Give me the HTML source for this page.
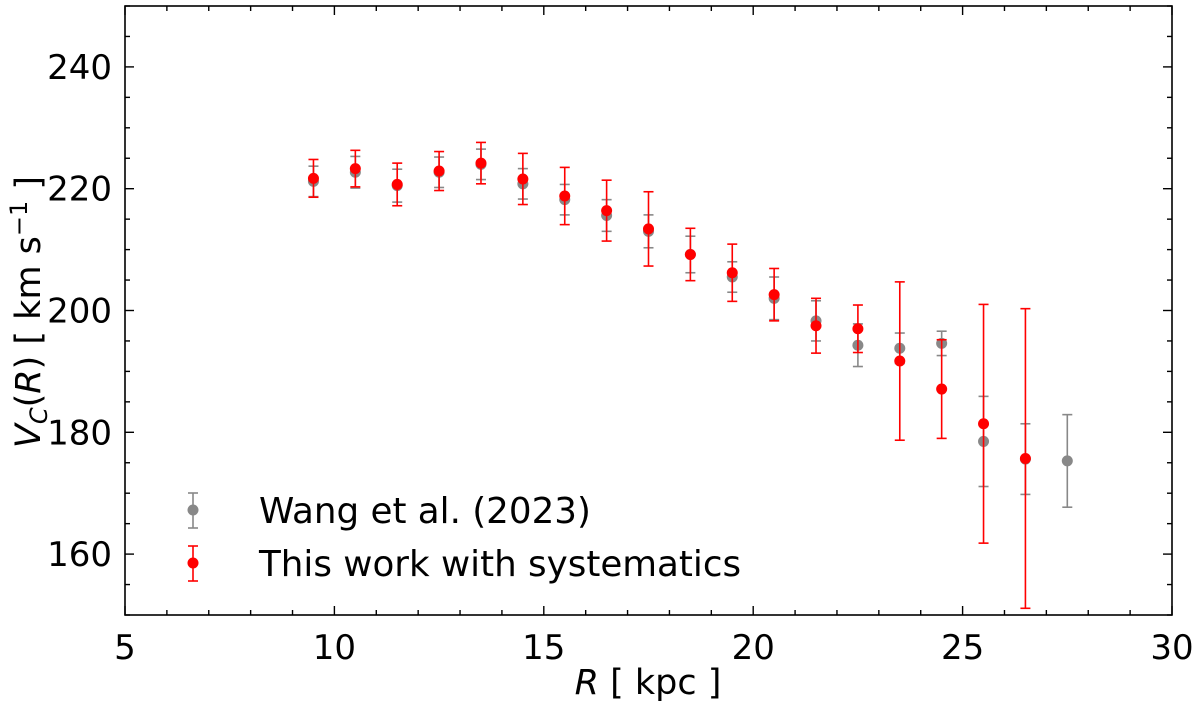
<!DOCTYPE html>
<html><head><meta charset="utf-8"><style>
body{margin:0;background:#fff}
svg text{font-family:"DejaVu Sans","Liberation Sans",sans-serif}
</style></head><body>
<svg id="chart" width="1200" height="703" viewBox="0 0 1200 703" xmlns="http://www.w3.org/2000/svg">
<g id="axes"></g>
<g id="marks"></g>
<rect x="125" y="6" width="1047" height="609" fill="none" stroke="#000" stroke-width="1.6"/>
<text x="648" y="694" font-size="35" text-anchor="middle"><tspan font-style="italic">R</tspan> [ kpc ]</text>
<text transform="translate(40,312) rotate(-90)" font-size="35" text-anchor="middle"><tspan font-style="italic">V</tspan><tspan font-style="italic" font-size="24" dy="7">C</tspan><tspan dy="-7">(</tspan><tspan font-style="italic">R</tspan>) [ km s<tspan font-size="24" dy="-13">−1</tspan><tspan dy="13"> ]</tspan></text>
<g>
<line x1="193" y1="493" x2="193" y2="528" stroke="#888" stroke-width="1.6"/><line x1="188" y1="493" x2="198" y2="493" stroke="#888" stroke-width="1.6"/><line x1="188" y1="528" x2="198" y2="528" stroke="#888" stroke-width="1.6"/>
<circle cx="193" cy="510" r="5.5" fill="#888"/>
<text x="259" y="523" font-size="35.7">Wang et al. (2023)</text>
<line x1="193" y1="546" x2="193" y2="581" stroke="red" stroke-width="1.6"/><line x1="188" y1="546" x2="198" y2="546" stroke="red" stroke-width="1.6"/><line x1="188" y1="581" x2="198" y2="581" stroke="red" stroke-width="1.6"/>
<circle cx="193" cy="563" r="5.5" fill="red"/>
<text x="259" y="576" font-size="35.7">This work with systematics</text>
</g>
</svg>
<script>
const xTicks=[5,10,15,20,25,30];
const yTicks=[160,180,200,220,240];
const wangR=[9.5,10.5,11.5,12.5,13.5,14.5,15.5,16.5,17.5,18.5,19.5,20.5,21.5,22.5,23.5,24.5,25.5,26.5,27.5];
const wangV=[221.2,222.7,220.5,222.7,224.0,220.8,218.2,215.6,213.0,209.2,205.5,202.0,198.3,194.3,193.8,194.6,178.5,175.6,175.3];
const wangErr=[2.5,2.6,2.7,2.5,2.5,2.5,2.5,2.6,2.7,3.0,2.5,3.5,3.3,3.5,2.5,2.0,7.4,5.8,7.6];
const workR=[9.5,10.5,11.5,12.5,13.5,14.5,15.5,16.5,17.5,18.5,19.5,20.5,21.5,22.5,23.5,24.5,25.5,26.5];
const workV=[221.7,223.3,220.7,222.9,224.2,221.6,218.8,216.4,213.4,209.2,206.2,202.6,197.5,197.0,191.7,187.1,181.4,175.7];
const workErr=[3.1,3.0,3.5,3.2,3.4,4.2,4.7,5.0,6.1,4.3,4.7,4.3,4.5,3.9,13.0,8.1,19.6,24.6];
const X0=125,X1=1172,Y0=615,Y1=6;
const xs=v=>X0+(v-5)/25*(X1-X0);
const ys=v=>Y0-(v-150)/100*(Y0-Y1);
const NS="http://www.w3.org/2000/svg";
function mk(tag,attrs,parent){const e=document.createElementNS(NS,tag);for(const k in attrs)e.setAttribute(k,attrs[k]);parent.appendChild(e);return e;}
const axes=document.getElementById('axes'),marks=document.getElementById('marks');
for(let v=5;v<=30;v+=1){const major=v%5===0,L=major?9:5,x=xs(v);
 const t1=mk('line',{x1:x,y1:Y0,x2:x,y2:Y0-L,stroke:'#000','stroke-width':1.4},axes);
 
 
 const t2=mk('line',{x1:x,y1:Y1,x2:x,y2:Y1+L,stroke:'#000','stroke-width':1.4},axes);
 
 }
for(let v=150;v<=250;v+=5){const major=v%20===0,L=major?9:5,y=ys(v);
 const t1=mk('line',{x1:X0,y1:y,x2:X0+L,y2:y,stroke:'#000','stroke-width':1.4},axes);
 
 
 const t2=mk('line',{x1:X1,y1:y,x2:X1-L,y2:y,stroke:'#000','stroke-width':1.4},axes);
 
 }
xTicks.forEach(v=>{const t=mk('text',{x:xs(v),y:Y0+44,'font-size':34,'text-anchor':'middle'},axes);t.textContent=v;
 
 });
yTicks.forEach(v=>{const t=mk('text',{x:X0-13,y:ys(v)+12,'font-size':34,'text-anchor':'end'},axes);t.textContent=v;
 
 });
function series(R,V,E,color,name){R.forEach((r,i)=>{const x=xs(r),yt=ys(V[i]+E[i]),yb=ys(V[i]-E[i]);
 const g=mk('g',{},marks);
 
 
 mk('line',{x1:x,y1:yt,x2:x,y2:yb,stroke:color,'stroke-width':1.6},g);
 mk('line',{x1:x-5,y1:yt,x2:x+5,y2:yt,stroke:color,'stroke-width':1.6},g);
 mk('line',{x1:x-5,y1:yb,x2:x+5,y2:yb,stroke:color,'stroke-width':1.6},g);
 mk('circle',{cx:x,cy:ys(V[i]),r:5.5,fill:color},g);});}
series(wangR,wangV,wangErr,'#888','wang');
series(workR,workV,workErr,'red','this-work');
</script>
</body></html>
